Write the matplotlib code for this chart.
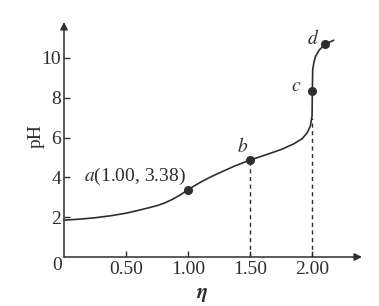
import numpy as np
import matplotlib
matplotlib.use("Agg")
import matplotlib.pyplot as plt

plt.rcParams.update({
    "font.family": ["Liberation Serif", "DejaVu Serif"],
    "font.size": 14,
    "mathtext.fontset": "stix",
})

# titration curve: eta (x) vs pH (y)
eta = [0.00, 0.125, 0.25, 0.375, 0.50, 0.625, 0.75, 0.8125, 0.875, 0.9375,
       1.00, 1.0625, 1.125, 1.1875, 1.25, 1.375, 1.50, 1.625, 1.75, 1.85,
       1.92, 1.96, 1.985, 1.998, 2.00, 2.003, 2.012, 2.024, 2.056, 2.105, 2.17]
ph = [1.85, 1.90, 1.97, 2.07, 2.20, 2.38, 2.58, 2.72, 2.90, 3.12,
      3.38, 3.62, 3.84, 4.04, 4.22, 4.57, 4.87, 5.13, 5.40, 5.68,
      5.95, 6.25, 6.60, 7.10, 8.36, 9.40, 9.75, 10.05, 10.40, 10.69, 10.88]

pts_x = [1.00, 1.50, 2.00, 2.105]
pts_y = [3.38, 4.87, 8.36, 10.69]

xticks = [0.5, 1.0, 1.5, 2.0]
xtick_labels = ["0.50", "1.00", "1.50", "2.00"]
yticks = [2, 4, 6, 8, 10]

INK = "#2e2e2e"

fig = plt.figure(figsize=(3.79, 3.06), dpi=100)
ax = fig.add_axes([64 / 379, 49 / 306, 298 / 379, 235 / 306])
ax.set_xlim(0, 2.40)
ax.set_ylim(0, 11.8)
for s in ax.spines.values():
    s.set_visible(False)

# axes with arrow heads
ax.annotate("", xy=(1, 0), xytext=(0, 0), xycoords="axes fraction",
            arrowprops=dict(arrowstyle="-|>", color=INK, lw=1.1,
                            mutation_scale=11, shrinkA=0, shrinkB=0))
ax.annotate("", xy=(0, 1), xytext=(0, 0), xycoords="axes fraction",
            arrowprops=dict(arrowstyle="-|>", color=INK, lw=1.1,
                            mutation_scale=11, shrinkA=0, shrinkB=0))

ax.set_xticks(xticks, xtick_labels)
ax.set_yticks(yticks)
ax.tick_params(direction="in", length=4, width=1.0, color=INK,
               labelcolor=INK, pad=3)
ax.tick_params(axis="y", pad=2)

ax.plot(eta, ph, color=INK, lw=1.2, clip_on=False)
ax.plot(pts_x, pts_y, "o", color=INK, ms=5.5, clip_on=False)

# dashed guides
ax.plot([1.5, 1.5], [0, pts_y[1]], ls=(0, (3, 2.5)), color=INK, lw=1.0)
ax.plot([2.0, 2.0], [0, 7.0], ls=(0, (3, 2.5)), color=INK, lw=1.0)

ax.text(0.98, 4.05, "$a$(1.00, 3.38)", ha="right", va="center", color=INK)
ax.text(1.44, 5.55, "$b$", ha="center", va="center", color=INK)
ax.text(1.87, 8.55, "$c$", ha="center", va="center", color=INK)
ax.text(2.01, 10.95, "$d$", ha="center", va="center", color=INK)

ax.text(-0.055, -0.45, "0", ha="center", va="center", color=INK)
ax.text(-0.094, 0.515, "pH", rotation=90, ha="center", va="center",
        color=INK, transform=ax.transAxes)
ax.text(1.11, -1.9, r"$\boldsymbol{\eta}$", ha="center", va="center",
        color=INK, fontsize=15)

fig.savefig("out.png", dpi=100)
